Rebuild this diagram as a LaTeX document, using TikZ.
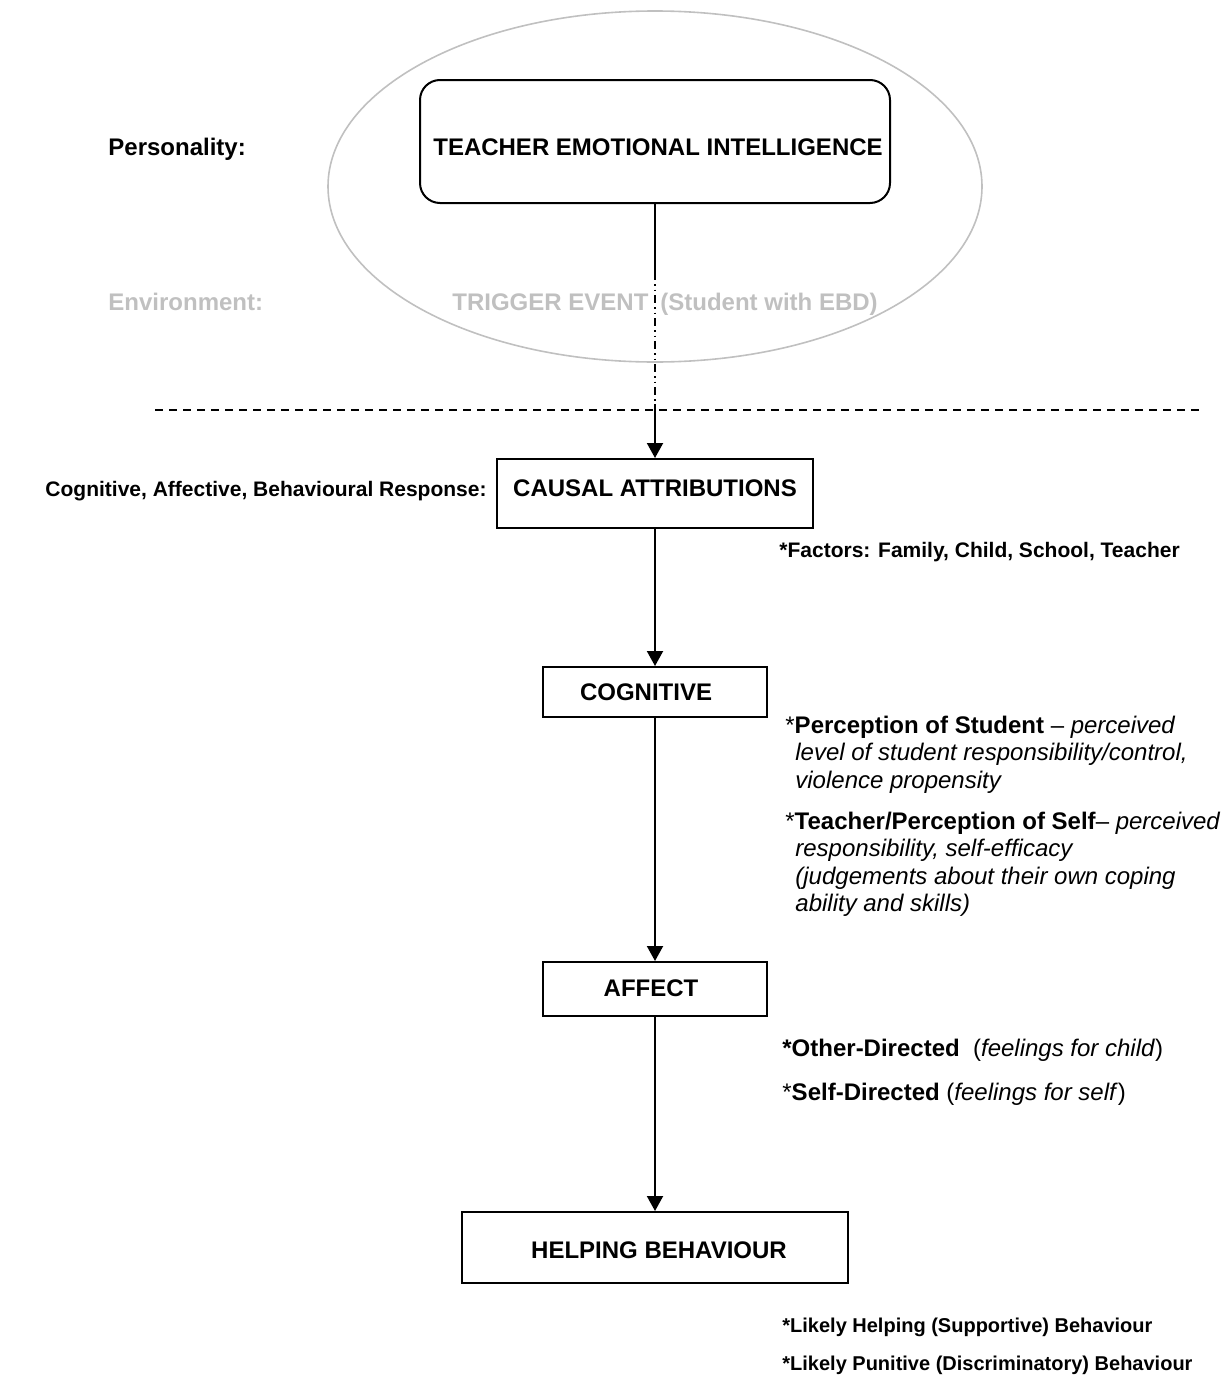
\documentclass[tikz,border=0pt]{standalone}
\usepackage{fontspec}
\setmainfont{Liberation Sans}
\usetikzlibrary{arrows.meta,shapes.geometric}
\definecolor{envgray}{RGB}{192,192,192}
\begin{document}
\begin{tikzpicture}[x=0.5pt,y=-0.5pt,
  flowbox/.style={draw, line width=1pt, inner sep=0pt},
  titletext/.style={inner sep=0pt, anchor=base, font=\fontsize{12}{14}\selectfont\bfseries},
  sidelabel/.style={inner sep=0pt, anchor=base west, font=\fontsize{12}{14}\selectfont\bfseries},
  note/.style={inner sep=0pt, anchor=base west, font=\fontsize{12}{14}\selectfont},
  smallnote/.style={inner sep=0pt, anchor=base west, font=\fontsize{10}{12}\selectfont\bfseries},
  flowarrow/.style={line width=1pt, -{Triangle[length=7.5pt,width=8pt]}},
  flowline/.style={line width=1pt},
  brokenline/.style={line width=1pt, dash pattern=on 4pt off 2pt on 0.75pt off 2pt on 0.75pt off 2pt},
]
\useasboundingbox (0,0) rectangle (1230,1376);

% personality / environment ellipse
\node[draw=envgray, line width=0.8pt, ellipse, minimum width=327pt, minimum height=175.5pt, inner sep=0pt] (env) at (655,186.5) {};

% row labels
\node[sidelabel] (personality) at (108,155.5) {Personality:};
\node[sidelabel, text=envgray] (environment) at (108,310.5) {Environment:};

% teacher emotional intelligence
\node[flowbox, rounded corners=10pt, minimum width=235pt, minimum height=61.5pt] (tei) at (655,141.5) {};
\node[titletext] (teitxt) at (658,155.5) {TEACHER EMOTIONAL INTELLIGENCE};

% trigger event
\node[sidelabel, text=envgray] (trigger) at (452,310.5) {TRIGGER EVENT};
\node[sidelabel, text=envgray] (student) at (660,310.5) {(Student with EBD)};

% separator between personality/environment and response
\coordinate (sepl) at (155,410);
\coordinate (sepr) at (1200,410);
\draw[line width=1pt, dash pattern=on 4pt off 3pt] (sepl) -- (sepr);

% response chain boxes
\node[flowbox, minimum width=158pt, minimum height=34.5pt] (causal) at (655,493.5) {};
\node[titletext] (causaltxt) at (655,496.5) {CAUSAL ATTRIBUTIONS};
\node[inner sep=0pt, anchor=base east, font=\fontsize{10.5}{12}\selectfont\bfseries] (responselbl) at (487,496) {Cognitive, Affective, Behavioural Response:};

\node[flowbox, minimum width=112pt, minimum height=25pt] (cognitive) at (655,692) {};
\node[titletext] (cognitivetxt) at (646,700.5) {COGNITIVE};

\node[flowbox, minimum width=112pt, minimum height=27pt] (affect) at (655,989) {};
\node[titletext] (affecttxt) at (651,996.5) {AFFECT};

\node[flowbox, minimum width=193pt, minimum height=35.5pt] (helping) at (655,1247.5) {};
\node[titletext] (helpingtxt) at (659,1258.5) {HELPING BEHAVIOUR};

% connectors
\coordinate (brk1) at (655,272);
\coordinate (brk2) at (655,404);
\draw[flowline] (tei.south) -- (brk1);
\draw[brokenline] (brk1) -- (brk2);
\draw[flowarrow] (brk2) -- (causal.north);
\draw[flowarrow] (causal.south) -- (cognitive.north);
\draw[flowarrow] (cognitive.south) -- (affect.north);
\draw[flowarrow] (affect.south) -- (helping.north);

% notes
\node[inner sep=0pt, anchor=base west, font=\fontsize{10.5}{12}\selectfont\bfseries] (factors) at (779,557.5) {*Factors: Family, Child, School, Teacher};

\node[note] (pstudent1) at (785,733) {*\textbf{Perception of Student} -- \textit{perceived}};
\node[note] (pstudent2) at (795,760.5) {\textit{level of student responsibility/control,}};
\node[note] (pstudent3) at (795,788) {\textit{violence propensity}};

\node[note] (pself1) at (785,829) {*\textbf{Teacher/Perception of Self}-- \textit{perceived}};
\node[note] (pself2) at (795,856.5) {\textit{responsibility, self-efficacy}};
\node[note] (pself3) at (795,884) {\textit{(judgements about their own coping}};
\node[note] (pself4) at (795,911.5) {\textit{ability and skills)}};

\node[note] (otherdir) at (782,1056.5) {\textbf{*Other-Directed}\ \ (\textit{feelings for child})};
\node[note] (selfdir) at (782,1100.5) {*\textbf{Self-Directed} (\textit{feelings for self})};

\node[smallnote] (likelyhelp) at (782,1332) {*Likely Helping (Supportive) Behaviour};
\node[smallnote] (likelypun) at (782,1370) {*Likely Punitive (Discriminatory) Behaviour};
\end{tikzpicture}
\end{document}
